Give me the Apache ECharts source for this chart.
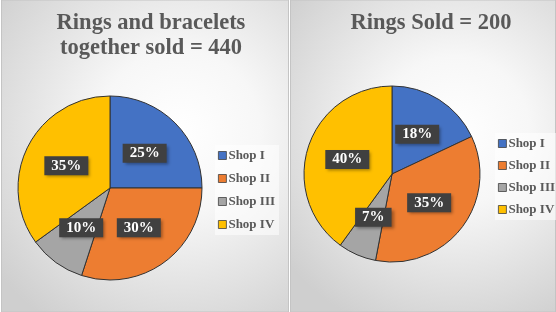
<!DOCTYPE html>
<html>
<head>
<meta charset="utf-8">
<script src="https://cdn.jsdelivr.net/npm/echarts@6/dist/echarts.min.js"></script>
<style>html,body{margin:0;padding:0;background:#fff}#c{width:556px;height:312px}</style>
</head>
<body>
<div id="c"></div>
<script>
var shops = ['Shop I', 'Shop II', 'Shop III', 'Shop IV'];
var leftValues = [25, 30, 10, 35];
var rightValues = [18, 35, 7, 40];
var leftTitle = 'Rings and bracelets\ntogether sold = 440';
var rightTitle = 'Rings Sold = 200';
var colors = ['#4472C4', '#ED7D31', '#A5A5A5', '#FFC000'];

var FONT = '"Liberation Serif", serif';
function bg(x, w) {
  return {
    type: 'rect', silent: true, z: -10,
    shape: { x: x, y: 0, width: w, height: 312 },
    style: {
      fill: new echarts.graphic.RadialGradient(0.62, 0.42, 0.8, [
        { offset: 0, color: '#ffffff' },
        { offset: 0.35, color: '#f7f7f7' },
        { offset: 1, color: '#cfcfcf' }
      ]),
      stroke: '#c4c4c4', lineWidth: 1
    }
  };
}
function makeData(vals) {
  return shops.map(function (s, i) { return { name: s, value: vals[i] }; });
}
var labelCfg = {
  show: true, position: 'inside', formatter: '{c}%',
  color: '#ffffff', fontFamily: FONT, fontWeight: 'bold', fontSize: 15,
  backgroundColor: '#404040', padding: [2, 7, 2, 7],
  shadowColor: 'rgba(0,0,0,0.35)', shadowBlur: 3, shadowOffsetX: 2, shadowOffsetY: 2
};
var legendBase = {
  orient: 'vertical', icon: 'rect', itemWidth: 8, itemHeight: 8, itemGap: 10,
  selectedMode: false,
  itemStyle: { borderColor: '#404040', borderWidth: 0.8 },
  textStyle: { fontFamily: FONT, fontWeight: 'bold', fontSize: 13, color: '#595959', padding: [0, 0, 0, -3] },
  backgroundColor: 'rgba(255,255,255,0.55)', padding: [4, 4, 4, 3],
  data: shops
};
var chart = echarts.init(document.getElementById('c'));
chart.setOption({
  animation: false,
  color: colors,
  graphic: [bg(1.5, 287), bg(290.5, 265)],
  title: [
    { text: leftTitle, left: 146, top: 6, textAlign: 'center',
      textStyle: { fontFamily: FONT, fontWeight: 'bold', fontSize: 22.5, color: '#595959', lineHeight: 25 } },
    { text: rightTitle, left: 426, top: 6, textAlign: 'center',
      textStyle: { fontFamily: FONT, fontWeight: 'bold', fontSize: 22.5, color: '#595959', lineHeight: 25 } }
  ],
  legend: [
    Object.assign({}, legendBase, { left: 215, top: 145 }),
    Object.assign({}, legendBase, { left: 495, top: 133, itemGap: 9 })
  ],
  series: [
    { type: 'pie', center: [110, 188], radius: [0, 92], startAngle: 90, clockwise: true,
      itemStyle: { borderColor: '#333333', borderWidth: 1 },
      label: labelCfg, labelLine: { show: false }, emphasis: { disabled: true },
      data: makeData(leftValues) },
    { type: 'pie', center: [392, 174], radius: [0, 88], startAngle: 90, clockwise: true,
      itemStyle: { borderColor: '#333333', borderWidth: 1 },
      label: labelCfg, labelLine: { show: false }, emphasis: { disabled: true },
      data: makeData(rightValues) }
  ]
});
</script>
</body>
</html>
